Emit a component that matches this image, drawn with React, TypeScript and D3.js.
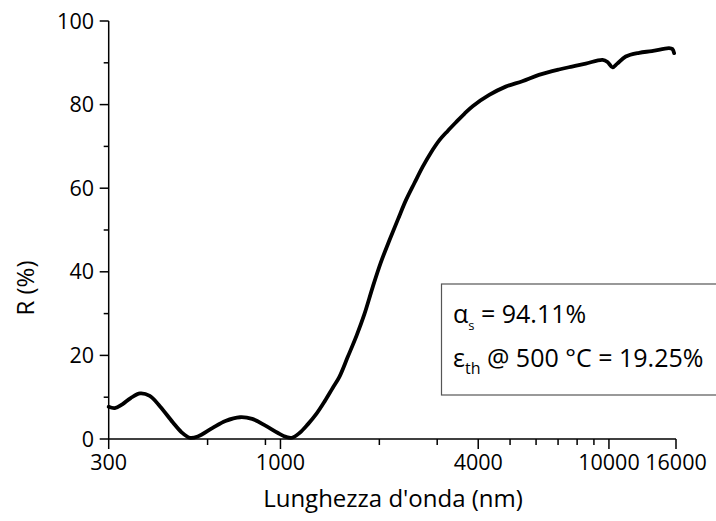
import React from "react";
import * as d3 from "d3";

const wavelengths = [
  300, 313, 330, 350, 374, 400, 430, 470, 500, 529, 560, 620, 680, 753, 820, 900, 980, 1040, 1084,
  1145, 1211, 1286, 1363, 1442, 1510, 1602, 1706, 1800, 1910, 2020, 2148, 2280, 2412, 2560, 2709,
  2870, 3048, 3230, 3426, 3630, 3847, 4321, 4850, 5450, 6120, 7045, 7720, 8500, 9560, 9900, 10260,
  10600, 11250, 12360, 13500, 15240, 15600, 15790,
];
const reflectance = [
  7.7, 7.4, 8.3, 9.8, 10.9, 10.3, 7.8, 4.0, 1.6, 0.3, 0.6, 2.6, 4.3, 5.2, 4.8, 3.2, 1.5, 0.5, 0.3,
  1.5, 3.5, 6.0, 9.0, 12.2, 14.8, 19.6, 24.8, 29.8, 36.4, 42.2, 47.6, 52.6, 57.2, 61.3, 65.1,
  68.5, 71.5, 73.7, 75.8, 77.8, 79.6, 82.3, 84.3, 85.6, 87.1, 88.4, 89.1, 89.8, 90.7, 90.2, 88.9,
  89.8, 91.5, 92.4, 92.8, 93.5, 93.3, 92.3,
];

const xMajorTicks = [300, 1000, 4000, 10000, 16000];
const xMinorTicks = [600, 900, 2000, 3000, 5000, 6000, 7000, 8000, 9000];
const yMajorTicks = [0, 20, 40, 60, 80, 100];
const yMinorTicks = [10, 30, 50, 70, 90];

const xTitle = "Lunghezza d'onda (nm)";
const yTitle = "R (%)";

const FONT = "'Open Sans', Lato, sans-serif";

export default function App() {
  const width = 716;
  const height = 521;
  const x = d3.scaleLog().domain([300, 16000]).range([108.7, 676]);
  const y = d3.scaleLinear().domain([0, 100]).range([439, 21]);

  const pts: [number, number][] = wavelengths.map((w, i) => [w, reflectance[i]]);
  const line = d3
    .line<[number, number]>()
    .x((d) => x(d[0]))
    .y((d) => y(d[1]))
    .curve(d3.curveCatmullRom.alpha(0.5));

  const x0 = x(300);
  const y0 = y(0);

  return (
    <svg
      width={width}
      height={height}
      style={{ position: "absolute", left: 0, top: 0, background: "#fff" }}
      fontFamily={FONT}
    >
      <rect x={0} y={0} width={width} height={height} fill="#fff" />
      <path d={line(pts) || ""} fill="none" stroke="#000" strokeWidth={3.8} strokeLinejoin="round" strokeLinecap="round" />

      <line x1={x0} x2={x0} y1={y(100)} y2={y0} stroke="#000" strokeWidth={1.5} />
      <line x1={x0} x2={x(16000)} y1={y0} y2={y0} stroke="#000" strokeWidth={1.5} />

      {yMajorTicks.map((t) => (
        <g key={"ym" + t}>
          <line x1={x0 - 9} x2={x0} y1={y(t)} y2={y(t)} stroke="#000" strokeWidth={1.5} />
          <text x={94} y={y(t) + 7.5} textAnchor="end" fontSize={21.5} fill="#000">
            {t}
          </text>
        </g>
      ))}
      {yMinorTicks.map((t) => (
        <line key={"yn" + t} x1={x0 - 5} x2={x0} y1={y(t)} y2={y(t)} stroke="#000" strokeWidth={1.5} />
      ))}
      {xMajorTicks.map((t) => (
        <g key={"xm" + t}>
          <line x1={x(t)} x2={x(t)} y1={y0} y2={y0 + 10} stroke="#000" strokeWidth={1.5} />
          <text x={x(t)} y={470} textAnchor="middle" fontSize={21.5} fill="#000">
            {t}
          </text>
        </g>
      ))}
      {xMinorTicks.map((t) => (
        <line key={"xn" + t} x1={x(t)} x2={x(t)} y1={y0} y2={y0 + 6} stroke="#000" strokeWidth={1.5} />
      ))}

      <text x={393} y={506.5} textAnchor="middle" fontSize={24} fill="#000">
        {xTitle}
      </text>
      <text transform={`translate(34,288) rotate(-90)`} textAnchor="middle" fontSize={24} fill="#000">
        {yTitle}
      </text>

      <rect x={441.5} y={284} width={300} height={111} fill="#fff" stroke="#555" strokeWidth={1.2} />
      <text x={453} y={323} fontSize={25} fill="#000">
        α<tspan fontSize={13} dy={7}>s</tspan>
        <tspan dy={-7}> = 94.11%</tspan>
      </text>
      <text x={453} y={367} fontSize={25} fill="#000">
        ε<tspan fontSize={16} dy={7}>th</tspan>
        <tspan dy={-7}> @ 500 °C = 19.25%</tspan>
      </text>
    </svg>
  );
}
